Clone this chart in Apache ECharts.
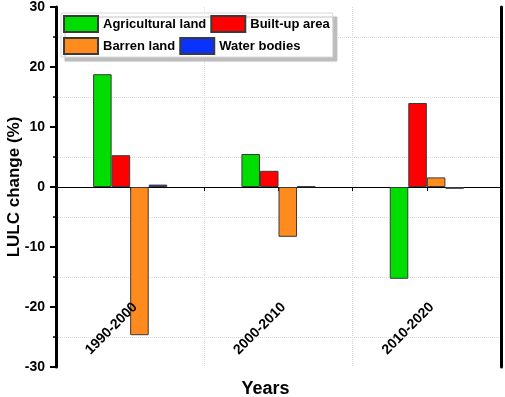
<!DOCTYPE html>
<html>
<head>
<meta charset="utf-8">
<script src="https://cdn.jsdelivr.net/npm/echarts@6/dist/echarts.min.js"></script>
<style>
  html, body { margin: 0; padding: 0; background: #fff; }
  #chart { width: 505px; height: 397px; }
</style>
</head>
<body>
<div id="chart"></div>
<script>
const periods = ['1990-2000', '2000-2010', '2010-2020']
const agricultural = [18.8, 5.5, -15.3]
const builtUp = [5.3, 2.7, 14.0]
const barren = [-24.7, -8.3, 1.6]
const water = [0.4, 0.1, -0.3]

const font = 'Arial, "Liberation Sans", sans-serif'

const chart = echarts.init(document.getElementById('chart'))

function bar(name, data, color) {
  return {
    name: name,
    type: 'bar',
    data: data,
    barGap: '0%',
    barCategoryGap: '50%',
    itemStyle: {
      color: color,
      borderColor: '#3a3a3a',
      borderWidth: 1
    }
  }
}

chart.setOption({
  animation: false,
  textStyle: { fontFamily: font },
  grid: {
    left: 56,
    right: 4,
    top: 7,
    bottom: 30,
    containLabel: false,
    outerBoundsMode: 'none'
  },
  legend: {
    left: 61,
    top: 13,
    width: 280,
    padding: [2, 3, 2, 2],
    icon: 'rect',
    itemWidth: 34,
    itemHeight: 16,
    itemGap: 4,
    backgroundColor: '#fff',
    borderColor: '#d8d8d8',
    borderWidth: 1,
    shadowColor: '#bdbdbd',
    shadowBlur: 1,
    shadowOffsetX: 4,
    shadowOffsetY: 4,
    textStyle: { fontSize: 13, fontWeight: 'bold', color: '#000', fontFamily: font },
    data: [
      { name: 'Agricultural land', textStyle: { width: 108 } },
      { name: 'Built-up area', textStyle: { width: 82 } },
      { name: 'Barren land', textStyle: { width: 108 } },
      { name: 'Water bodies', textStyle: { width: 82 } }
    ]
  },
  xAxis: [{
    // zero line with boundary ticks and vertical grid
    type: 'category',
    data: periods,
    position: 'bottom',
    axisLine: { onZero: true, lineStyle: { color: '#000', width: 1 } },
    axisTick: { show: true, length: 4, lineStyle: { color: '#000', width: 1 } },
    axisLabel: { show: false },
    splitLine: {
      show: true,
      lineStyle: { color: '#d9d9d9', type: 'dotted', width: 1 }
    }
  }, {
    // centre ticks on the zero line
    type: 'category',
    data: periods,
    position: 'top',
    axisLine: { show: false, onZero: true },
    axisTick: { show: true, alignWithLabel: true, inside: true, length: 4, lineStyle: { color: '#000' } },
    axisLabel: { show: false },
    splitLine: { show: false }
  }, {
    // labels and title at the bottom, drawn above the bars
    type: 'category',
    data: periods,
    position: 'bottom',
    z: 10,
    name: 'Years',
    nameLocation: 'middle',
    nameGap: 13,
    nameMoveOverlap: false,
    nameTextStyle: { fontSize: 18, fontWeight: 'bold', color: '#000', padding: [0, 26, 0, 0] },
    axisLine: { show: false, onZero: false },
    axisTick: { show: false },
    axisLabel: {
      interval: 0,
      rotate: 45,
      margin: -57,
      padding: [0, -7, 0, 0],
      fontSize: 14,
      fontWeight: 'bold',
      color: '#000'
    },
    splitLine: { show: false }
  }],
  yAxis: [{
    type: 'value',
    min: -30,
    max: 30,
    interval: 10,
    name: 'LULC change (%)',
    nameLocation: 'middle',
    nameGap: 33,
    nameMoveOverlap: false,
    nameTextStyle: { fontSize: 17, fontWeight: 'bold', color: '#000' },
    axisLine: { show: true, lineStyle: { color: '#000', width: 3 } },
    axisTick: { show: true, length: 6, lineStyle: { color: '#000', width: 2 } },
    minorTick: { show: true, splitNumber: 2, length: 3, lineStyle: { color: '#000', width: 1.5 } },
    axisLabel: { fontSize: 14, fontWeight: 'bold', color: '#000', margin: 11 },
    splitLine: { show: false },
    minorSplitLine: { show: true, lineStyle: { color: '#d9d9d9', type: 'dotted', width: 1 } }
  }, {
    type: 'value',
    min: -30,
    max: 30,
    interval: 10,
    position: 'right',
    axisLine: { show: true, onZero: false, lineStyle: { color: '#000', width: 3 } },
    axisTick: { show: false },
    axisLabel: { show: false },
    splitLine: { show: false }
  }],
  series: [
    bar('Agricultural land', agricultural, '#00dd00'),
    bar('Built-up area', builtUp, '#ff0000'),
    bar('Barren land', barren, '#ff8a1e'),
    bar('Water bodies', water, '#0a32ff')
  ]
})
</script>
</body>
</html>
